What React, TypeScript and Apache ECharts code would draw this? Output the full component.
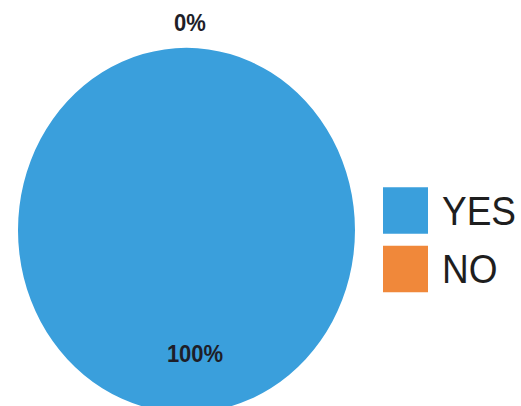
import React, { useEffect, useRef } from "react";
import * as echarts from "echarts";

const categories = ["YES", "NO"];
const values = [100, 0];
const percentLabels = ["100%", "0%"];
const colors = ["#3a9fdc", "#f0883a"];

const W = 521;
const H = 375;
const SCALE_Y = 406 / 375;

export default function App() {
  const ref = useRef<HTMLDivElement>(null);
  useEffect(() => {
    if (!ref.current) return;
    const chart = echarts.init(ref.current, null, { renderer: "svg" });
    chart.setOption({
      animation: false,
      backgroundColor: "#ffffff",
      color: colors,
      legend: {
        orient: "vertical",
        left: 383,
        top: 173,
        padding: 0,
        itemWidth: 45,
        itemHeight: 43,
        itemGap: 11,
        icon: "rect",
        selectedMode: false,
        data: categories,
        textStyle: {
          fontFamily: "Liberation Sans, Arial, sans-serif",
          fontSize: 37,
          color: "#1e1e1e",
          lineHeight: 35,
          padding: [8, 0, 0, 9],
        },
      },
      series: [
        {
          type: "pie",
          center: [186.5, 212.7],
          radius: [0, 168.5],
          startAngle: 90,
          clockwise: true,
          avoidLabelOverlap: false,
          label: {
            show: true,
            position: "inside",
            formatter: (p: any) => percentLabels[p.dataIndex],
            fontFamily: "Liberation Sans, Arial, sans-serif",
            fontWeight: "bold",
            fontSize: 22,
            color: "#1e1e28",
          },
          labelLine: { show: false },
          labelLayout: (p: any) => {
            if (p.dataIndex === 0) {
              return { x: 195, y: 327, align: "center", verticalAlign: "middle" };
            }
            return { x: 190, y: 21, align: "center", verticalAlign: "middle" };
          },
          itemStyle: { borderWidth: 0 },
          emphasis: { disabled: true },
          data: categories.map((c, i) => ({ name: c, value: values[i] })),
        },
      ],
    });
    return () => chart.dispose();
  }, []);
  return (
    <div
      style={{
        position: "absolute",
        left: 0,
        top: 0,
        width: W,
        height: H,
        transform: `scaleY(${SCALE_Y})`,
        transformOrigin: "0 0",
        background: "#fff",
      }}
    >
      <div ref={ref} style={{ width: W, height: H }} />
    </div>
  );
}
